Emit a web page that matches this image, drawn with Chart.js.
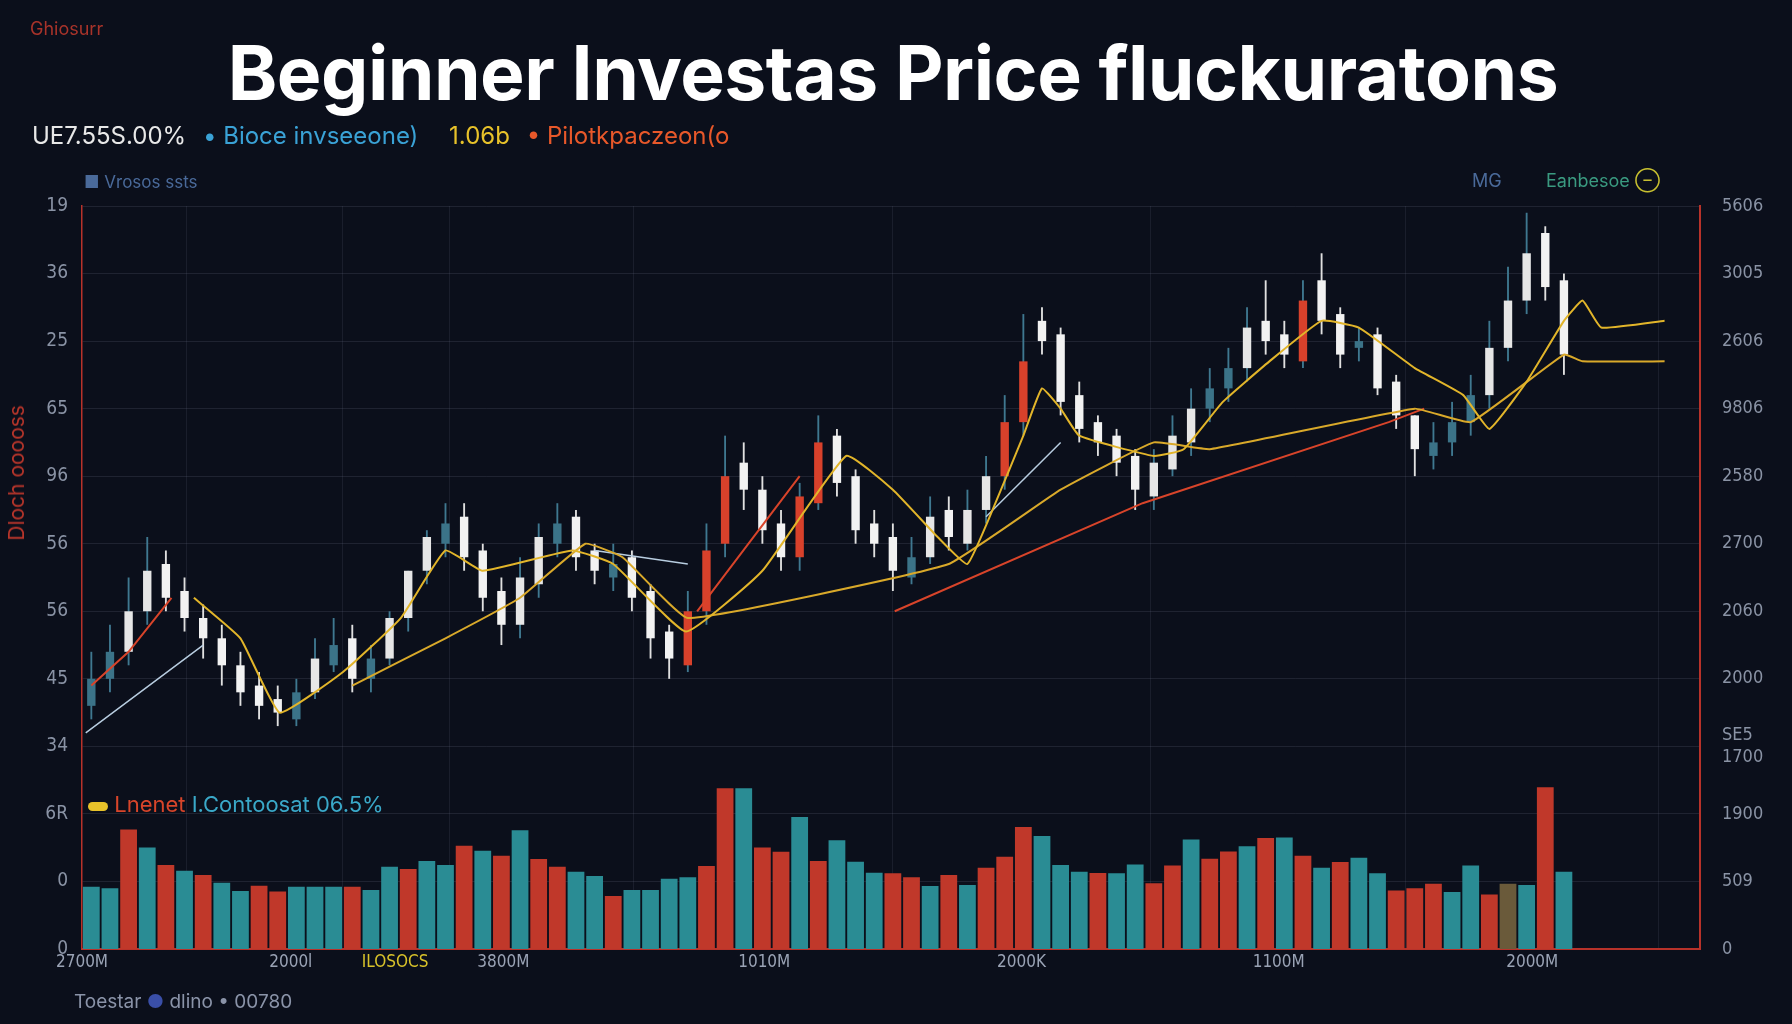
<!DOCTYPE html>
<html>
<head>
<meta charset="utf-8">
<script src="https://cdn.jsdelivr.net/npm/chart.js@4/dist/chart.umd.min.js"></script>
<style>
  body { margin:0; background:#0b0f1b; width:1792px; height:1024px; overflow:hidden; font-family:Inter, "DejaVu Sans", sans-serif; }
  #wrap { position:absolute; left:0; top:0; width:1792px; height:1024px; }
  .t { position:absolute; white-space:nowrap; }
</style>
</head>
<body>
<div id="wrap"><canvas id="c" width="1792" height="1024"></canvas></div>

<div class="t" style="left:30px;top:18px;font-size:18px;color:#a8332a;">Ghiosurr</div>
<div class="t" style="left:0;width:1786px;text-align:center;top:27px;font-size:75px;font-weight:700;color:#fff;letter-spacing:-0.5px;">Beginner Investas Price fluckuratons</div>
<div class="t" style="left:32px;top:121px;font-size:24px;">
  <span style="color:#e8e8e8">UE7.55Ѕ.00%</span>
  <span style="color:#3aa2d6;margin-left:10px">• Bioce invseeone)</span>
  <span style="color:#e8c22a;margin-left:24px">1.06b</span>
  <span style="color:#e8582a;margin-left:10px">• Pilotkpaczeon(o</span>
</div>
<div class="t" style="left:84px;top:172px;font-size:17px;color:#4a6a9a;">■ Vrosos ssts</div>
<div class="t" style="left:1472px;top:170px;font-size:18px;color:#4a6a9a;">MG</div>
<div class="t" style="left:1546px;top:170px;font-size:18px;color:#3a9a80;">Eanbesoe <span style="color:#c8c030">⊖</span></div>
<div class="t" style="left:4px;top:405px;font-size:21px;color:#b8352a;transform:rotate(-90deg) translate(-100%,0);transform-origin:0 0;">Dloch ooooss</div>
<div class="t" style="left:88px;top:791px;font-size:22px;">
  <span style="display:inline-block;width:20px;height:9px;background:#e8c22a;border-radius:5px;vertical-align:middle"></span>
  <span style="color:#d8452a">Lnenet</span>
  <span style="color:#3aa8c8">I.Contoosat 06.5%</span>
</div>
<div class="t" style="left:74px;top:990px;font-size:19px;color:#8a93a8;">Toestar <span style="color:#3a4fa8">●</span> dlino • 00780</div>

<script>
// price candles (chart units)
var opens  = [3.6,4.0,4.4,5.0,5.7,5.3,4.9,4.6,4.2,3.9, 3.7,3.4,3.8,4.2,4.6,4.0,4.3,4.9,5.6,6.0, 6.4,5.9,5.3,4.8,5.4,6.0,6.4,5.9,5.5,5.8, 5.3,4.7,4.2,5.0,6.0,7.2,6.8,6.3,5.8,6.6, 7.6,7.0,6.3,6.1,5.5,5.8,6.5,6.0,6.5,7.0, 7.8,9.3,9.1,8.2,7.8,7.6,7.3,6.7,7.1,7.5, 8.0,8.3,8.6,9.3,9.1,8.7,9.9,9.4,8.9,9.1, 8.4,7.9,7.3,7.5,7.8,8.2,8.9,9.6,10.6,9.9];
var closes = [4.0,4.4,5.0,5.6,5.2,4.9,4.6,4.2,3.8,3.6, 3.5,3.8,4.3,4.5,4.0,4.3,4.9,5.6,6.1,6.3, 5.8,5.2,4.8,5.5,6.1,6.3,5.8,5.6,5.7,5.2, 4.6,4.3,5.0,5.9,7.0,6.8,6.2,5.8,6.7,7.5, 6.9,6.2,6.0,5.6,5.8,6.4,6.1,6.5,7.0,7.8, 8.7,9.0,8.1,7.7,7.5,7.2,6.8,7.2,7.6,8.0, 8.3,8.6,9.2,9.0,8.8,9.6,9.3,8.8,9.0,8.3, 7.9,7.4,7.5,7.8,8.2,8.9,9.6,10.3,9.8,8.8];
var highs  = [4.4,4.8,5.5,6.1,5.9,5.5,5.1,4.8,4.4,4.1, 3.9,4.0,4.6,4.9,4.8,4.5,5.0,5.6,6.2,6.6, 6.6,6.0,5.5,5.8,6.3,6.6,6.5,6.0,6.0,5.9, 5.4,4.8,5.3,6.3,7.6,7.5,7.0,6.5,6.9,7.9, 7.7,7.1,6.5,6.3,6.1,6.7,6.7,6.8,7.3,8.2, 9.4,9.5,9.2,8.4,7.9,7.7,7.4,7.4,7.9,8.3, 8.6,8.9,9.5,9.9,9.3,9.9,10.3,9.5,9.2,9.2, 8.5,7.9,7.8,8.1,8.5,9.3,10.1,10.9,10.7,10.0];
var lows   = [3.4,3.8,4.2,4.8,5.0,4.7,4.3,3.9,3.6,3.4, 3.3,3.3,3.7,4.1,3.8,3.8,4.2,4.7,5.4,5.8, 5.6,5.0,4.5,4.6,5.2,5.8,5.6,5.4,5.3,5.0, 4.3,4.0,4.1,4.8,5.8,6.5,6.0,5.6,5.6,6.5, 6.7,6.0,5.8,5.3,5.4,5.7,5.9,5.9,6.3,6.8, 7.6,8.8,7.9,7.5,7.3,7.0,6.5,6.5,7.0,7.3, 7.8,8.1,8.4,8.8,8.6,8.6,9.1,8.6,8.7,8.2, 7.7,7.0,7.1,7.3,7.6,8.0,8.7,9.4,9.6,8.5];

// volume
var volumes = [188,183,360,306,253,236,223,200,175,191, 173,188,188,188,188,178,248,241,265,253, 311,296,281,358,271,248,233,220,160,178, 178,212,216,250,485,485,306,293,398,265, 328,263,230,228,216,190,223,193,245,278, 368,341,253,233,229,228,255,198,252,330, 272,294,310,335,336,281,245,262,275,228, 176,183,197,172,252,164,197,193,488,233];
var volSide = "ttrtrtrttr rtttrttrtt rtrtrrttrt tttrrtrrtr tttrrtrtrr rtttrttrrt rrtrtrtrtt rrrttrbtrt".replace(/ /g,"").split("");

// moving averages [index, value]
var maFast = [[5.5,5.2],[8,4.6],[10.1,3.5],[13.5,4.1],[16.6,4.9],[19,5.9],[21,5.6],[25.8,5.9],[28,5.7],[31.9,4.7],[36,5.6],[40.5,7.3],[43,6.8],[45.4,6.1],[47,5.7],[48.5,6.6],[50,7.6],[51,8.3],[52,8.0],[53,7.6],[57,7.3],[58.6,7.4],[60.7,8.1],[63.2,8.7],[66,9.3],[68,9.2],[71,8.6],[73.6,8.2],[75,7.7],[77,8.4],[79,9.3],[80,9.6],[81,9.2],[84.4,9.3]];
var maSlow = [[14,3.9],[19,4.6],[23,5.2],[26.5,6.0],[28.5,5.8],[32,4.9],[46,5.7],[52,6.8],[57,7.5],[60,7.4],[71,8.0],[74,7.8],[79,8.8],[80,8.7],[84.4,8.7]];
var maLong = [[0,3.9],[2,4.4],[4.3,5.2],[4.4,null],[32.5,5.0],[38,7.0],[38.1,null],[43.1,5.0],[56.4,6.6],[69.6,7.8],[71.5,8.0]];
var maBlue = [[-0.3,3.2],[6,4.5],[6.1,null],[27,5.9],[32,5.7],[32.1,null],[48,6.4],[52,7.5]];

var leftTicks  = ["0","0","6R","34","45","56","56","96","65","25","36","19"];
var rightTicks = ["0","509","1900",["SE5","1700"],"2000","2060","2700","2580","9806","2606","3005","5606"];
var xTickPos   = [-0.5,10.7,16.3,22.1,36.1,49.9,63.7,77.3];
var xTickLbl   = ["2700M","2000l","ILOSOCS","3800M","1010M","2000K","1100M","2000M"];

function pts(a){ return a.map(function(p){ return {x:p[0], y:p[1]}; }); }

var bodies = opens.map(function(o,i){ return {x:i, y:[o, closes[i]]}; });
var wicks = lows.map(function(l,i){ return {x:i, y:[l, highs[i]]}; });
var vols = volumes.map(function(v,i){ return {x:i, y:v}; });

function candleColor(i){
  var d = closes[i]-opens[i];
  if (d < 0) return '#f2f2f2';
  if (d >= 0.75) return '#d8412b';
  return d > 0.45 ? '#e6e6e6' : '#3b7388';
}
function wickColor(i){
  return closes[i] >= opens[i] ? '#3f7890' : '#e0e0e0';
}
var volCol = {t:'#2a8c94', r:'#c0382a', b:'#6a5a3a'};

new Chart(document.getElementById('c'), {
  type: 'bar',
  data: {
    datasets: [
      {type:'line', data:pts(maFast), borderColor:'#e2b52a', borderWidth:2, pointRadius:0, tension:0.12, order:0, yAxisID:'y'},
      {type:'line', data:pts(maSlow), borderColor:'#d9a92a', borderWidth:2, pointRadius:0, tension:0.1, order:0, yAxisID:'y'},
      {type:'line', data:pts(maLong), borderColor:'#d8442a', borderWidth:2, pointRadius:0, spanGaps:false, order:0, yAxisID:'y'},
      {type:'line', data:pts(maBlue), borderColor:'#b8cde0', borderWidth:1.5, pointRadius:0, spanGaps:false, order:0, yAxisID:'y'},
      {data:bodies, backgroundColor:bodies.map(function(d,i){return candleColor(i);}), barPercentage:0.45, categoryPercentage:1, grouped:false, order:1, yAxisID:'y'},
      {data:wicks, backgroundColor:wicks.map(function(d,i){return wickColor(i);}), barPercentage:0.1, categoryPercentage:1, grouped:false, order:2, yAxisID:'y'},
      {data:vols, backgroundColor:volSide.map(function(s){return volCol[s];}), barPercentage:0.9, categoryPercentage:1, grouped:false, order:3, yAxisID:'yv'}
    ]
  },
  options: {
    responsive:false, animation:false,
    layout:{padding:{top:206, left:0, right:0, bottom:0}},
    plugins:{legend:{display:false}, tooltip:{enabled:false}},
    scales:{
      x:{type:'linear', min:-0.5, max:86.3, offset:false,
        afterBuildTicks:function(s){ s.ticks = xTickPos.map(function(v){return {value:v};}); },
        afterFit:function(s){ s.height = 75; },
        ticks:{autoSkip:false, maxRotation:0, font:{size:17, family:'DejaVu Sans Condensed'},
          color:function(c){ return c.index===2 ? '#d8c22a' : '#9aa3b5'; },
          callback:function(v,i){ return xTickLbl[i]; }},
        grid:{color:'rgba(120,130,150,0.14)', drawTicks:false},
        border:{color:'#b8322a', width:2}},
      y:{min:0, max:11, position:'left',
        afterBuildTicks:function(s){ s.ticks = leftTicks.map(function(t,i){return {value:i};}); },
        afterFit:function(s){ s.width = 82; },
        ticks:{color:'#8a93a5', font:{size:19, family:'DejaVu Sans Condensed'}, padding:14,
          callback:function(v){ return leftTicks[v]; }},
        grid:{color:'rgba(120,130,150,0.18)', drawTicks:false},
        border:{color:'#b8322a', width:1.5}},
      y2:{min:0, max:11, position:'right',
        afterBuildTicks:function(s){ s.ticks = rightTicks.map(function(t,i){return {value:i};}); },
        afterFit:function(s){ s.width = 92; },
        ticks:{color:'#8a93a5', font:{size:18, family:'DejaVu Sans Condensed'}, padding:14,
          callback:function(v){ return rightTicks[v]; }},
        grid:{display:false},
        border:{color:'#b8322a', width:2}},
      yv:{min:0, max:2240, display:false}
    }
  }
});
</script>
</body>
</html>
